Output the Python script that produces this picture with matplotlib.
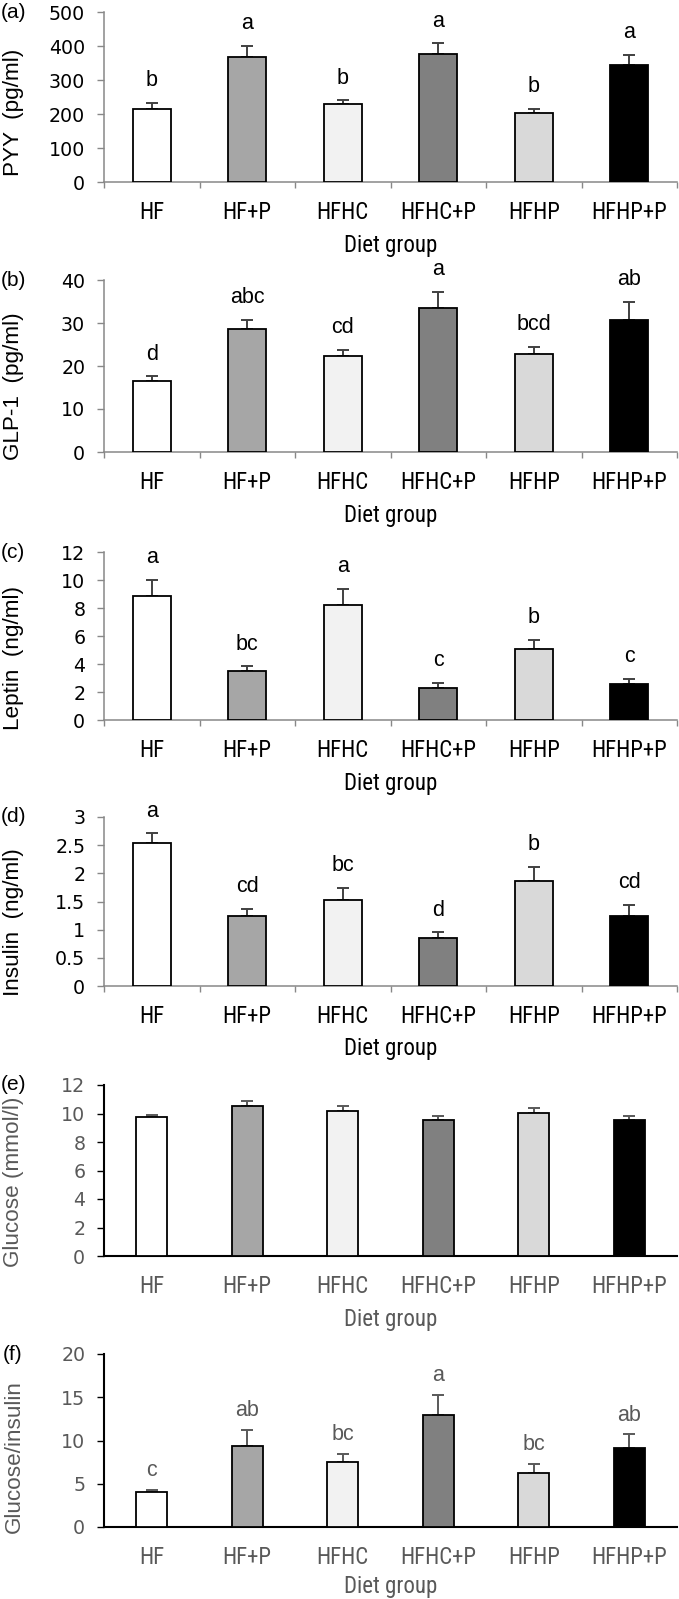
import numpy as np
import matplotlib.pyplot as plt
from matplotlib import font_manager

# data
groups = ['HF', 'HF+P', 'HFHC', 'HFHC+P', 'HFHP', 'HFHP+P']
bar_colors = ['#ffffff', '#a6a6a6', '#f2f2f2', '#808080', '#d9d9d9', '#000000']

pyy = [215, 367, 228, 375, 203, 345]
pyy_se = [18, 33, 12, 33, 13, 28]
pyy_letters = ['b', 'a', 'b', 'a', 'b', 'a']

glp1 = [16.5, 28.7, 22.3, 33.4, 22.8, 30.7]
glp1_se = [1.1, 2.0, 1.4, 3.9, 1.7, 4.3]
glp1_letters = ['d', 'abc', 'cd', 'a', 'bcd', 'ab']

leptin = [8.87, 3.48, 8.19, 2.31, 5.06, 2.59]
leptin_se = [1.13, 0.36, 1.17, 0.33, 0.64, 0.35]
leptin_letters = ['a', 'bc', 'a', 'c', 'b', 'c']

insulin = [2.54, 1.25, 1.53, 0.85, 1.87, 1.25]
insulin_se = [0.17, 0.12, 0.21, 0.10, 0.24, 0.19]
insulin_letters = ['a', 'cd', 'bc', 'd', 'b', 'cd']

glucose = [9.73, 10.53, 10.15, 9.54, 10.03, 9.54]
glucose_se = [0.19, 0.37, 0.40, 0.28, 0.33, 0.31]

ratio = [4.0, 9.36, 7.5, 12.9, 6.2, 9.17]
ratio_se = [0.3, 1.84, 0.9, 2.4, 1.1, 1.53]
ratio_letters = ['c', 'ab', 'bc', 'a', 'bc', 'ab']

SANS = ['Liberation Sans', 'DejaVu Sans']
GRAY_TXT = '#595959'

# pick a narrow font for the category labels if one is around
fonts = font_manager.fontManager.ttflist
names = {f.name for f in fonts}
narrow = dict(family=SANS, fontsize=14)
if 'Liberation Sans Narrow' in names:
    narrow = dict(family=['Liberation Sans Narrow'], fontsize=16.5)
elif 'Roboto Condensed' in names:
    narrow = dict(family=['Roboto Condensed'], fontsize=16.5)
elif any(f.name == 'DejaVu Sans' and f.stretch == 'condensed' for f in fonts):
    narrow = dict(family=['DejaVu Sans'], fontstretch='condensed', fontsize=15)

# panel settings (label, values, se, letters, y ticks, grey-axis style?)
panels = [
    ('(a)', 'PYY  (pg/ml)', pyy, pyy_se, pyy_letters, np.arange(0, 501, 100), True),
    ('(b)', 'GLP-1  (pg/ml)', glp1, glp1_se, glp1_letters, np.arange(0, 41, 10), True),
    ('(c)', 'Leptin  (ng/ml)', leptin, leptin_se, leptin_letters, np.arange(0, 13, 2), True),
    ('(d)', 'Insulin  (ng/ml)', insulin, insulin_se, insulin_letters, np.arange(0, 3.01, 0.5), True),
    ('(e)', 'Glucose (mmol/l)', glucose, glucose_se, None, np.arange(0, 13, 2), False),
    ('(f)', 'Glucose/insulin', ratio, ratio_se, ratio_letters, np.arange(0, 21, 5), False),
]

W, H = 679, 1599
tops = [12, 280, 552, 817, 1085, 1354]
bots = [182, 452, 720, 986, 1256, 1527]
ylab_y = [112, 386, 658, 922, 1182, 1457]
xlab_pad = [7, 7, 7, 6, 7, 4]
ax_left, ax_w = 104, 573

fig = plt.figure(figsize=(W / 100, H / 100), dpi=100)
x = np.arange(len(groups))

for i, (tag, ylab, vals, se, letters, yt, old) in enumerate(panels):
    ax = fig.add_axes([ax_left / W, 1 - bots[i] / H, ax_w / W, (bots[i] - tops[i]) / H])
    spine_col = '#888888' if old else 'black'
    txt_col = 'black' if old else GRAY_TXT
    err_col = '#404040' if old else GRAY_TXT
    width = 0.4 if old else 0.32

    ax.bar(x, vals, width, color=bar_colors, edgecolor='black', linewidth=1.3, zorder=3)
    ax.errorbar(x, vals, yerr=[np.zeros(len(se)), se], fmt='none', ecolor=err_col,
                elinewidth=1.4, capsize=4, capthick=1.4, zorder=2)

    ax.set_xlim(-0.5, 5.5)
    ax.set_ylim(0, yt[-1])
    ax.set_yticks(yt)
    ax.set_yticklabels(['%g' % v for v in yt], family='DejaVu Sans', fontsize=13.7, color=txt_col)
    ax.set_xticks(x)
    ax.set_xticklabels(groups, color=txt_col, **narrow)
    ax.tick_params(axis='x', which='major', length=0, pad=14)
    if old:
        ax.set_xticks(np.arange(-0.5, 6, 1), minor=True)
        ax.tick_params(axis='x', which='minor', length=4, width=1, color=spine_col)
    ax.tick_params(axis='y', length=5, width=1, color=spine_col, pad=8.5)

    for s in ['top', 'right']:
        ax.spines[s].set_visible(False)
    for s in ['left', 'bottom']:
        ax.spines[s].set_color(spine_col)
        ax.spines[s].set_linewidth(1.1 if old else 1.5)

    ax.set_xlabel('Diet group', color=txt_col, labelpad=xlab_pad[i], **narrow)

    if letters is not None:
        for xi, v, e, lab in zip(x, vals, se, letters):
            ax.annotate(lab, (xi, v + e), xytext=(0, 16 if old else 14),
                        textcoords='offset points', ha='center', va='center',
                        family=SANS, fontsize=15.5, color=txt_col)

    fig.text(14 / W, 1 - ylab_y[i] / H, ylab, rotation=90, ha='center', va='center',
             family=SANS, fontsize=16.2, color=txt_col)
    fig.text(13 / W, 1 - tops[i] / H, tag, ha='center', va='center',
             family=SANS, fontsize=15, color='black')

fig.savefig('out.png', dpi=100)
